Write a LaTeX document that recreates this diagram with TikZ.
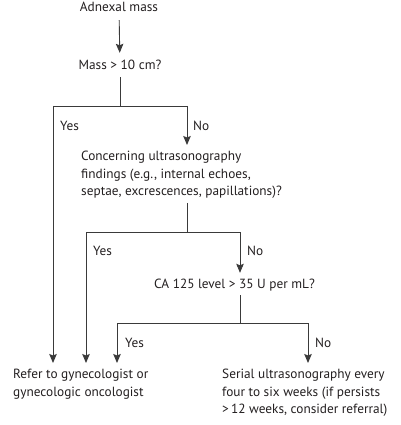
\documentclass[tikz,border=0pt]{standalone}
\usepackage{fontspec}
\setmainfont{PT Sans}
\usetikzlibrary{arrows.meta}
\definecolor{ink}{HTML}{231F20}
\definecolor{linec}{HTML}{3A3A3A}
\begin{document}
\begin{tikzpicture}[x=1pt,y=-1pt,
  txt/.style={inner sep=0pt, font=\fontsize{13.3}{18}\selectfont, text=ink, text height=9pt, text depth=3pt},
  mtxt/.style={inner sep=0pt, font=\fontsize{13.3}{17.5}\selectfont, text=ink, align=left},
  lbl/.style={inner sep=0pt, font=\fontsize{13.3}{18}\selectfont, text=ink, anchor=base west},
  ln/.style={draw=linec, line width=0.9pt},
  arr/.style={ln, -{Stealth[length=9pt,width=7.5pt,inset=1.5pt]}}]
\useasboundingbox (0,0) rectangle (400,425);
% nodes
\node[txt, anchor=base] (adnexal) at (119,12) {Adnexal mass};
\node[txt, anchor=base] (mass) at (120,70) {Mass > 10 cm?};
\node[mtxt, anchor=north west] (concern) at (81,151) {Concerning ultrasonography\\findings (e.g., internal echoes,\\septae, excrescences, papillations)?};
\node[txt, anchor=base west] (ca) at (154,288) {CA 125 level > 35 U per mL?};
\node[mtxt, anchor=north west] (refer) at (13,369) {Refer to gynecologist or\\gynecologic oncologist};
\node[mtxt, anchor=north west] (serial) at (222,369) {Serial ultrasonography every\\four to six weeks (if persists\\>\,12 weeks, consider referral)};
% junctions
\coordinate (j1) at (120,106);
\coordinate (j1L) at (53,106);
\coordinate (j1R) at (187,106);
\coordinate (j2) at (187,232);
\coordinate (j2L) at (86,232);
\coordinate (j2R) at (240,232);
\coordinate (j3) at (240,323);
\coordinate (j3L) at (117,323);
\coordinate (j3R) at (308,323);
% labels
\node[lbl] (yes1) at (60,130) {Yes};
\node[lbl] (no1) at (193,130) {No};
\node[lbl] (yes2) at (93,255) {Yes};
\node[lbl] (no2) at (247,255) {No};
\node[lbl] (yes3) at (125,347) {Yes};
\node[lbl] (no3) at (315,347) {No};
% connectors
\draw[arr, shorten <=5pt, shorten >=8pt] (adnexal) -- (mass);
\draw[ln, shorten <=4pt] (mass) -- (j1);
\draw[ln] (j1L) -- (j1R);
\draw[arr, shorten >=6pt] (j1L) -- (j1L |- refer.north);
\draw[arr, shorten >=6pt] (j1R) -- (j1R |- concern.north);
\draw[ln, shorten <=4pt] (j2 |- concern.south) -- (j2);
\draw[ln] (j2L) -- (j2R);
\draw[arr, shorten >=6pt] (j2L) -- (j2L |- refer.north);
\draw[arr, shorten >=6pt] (j2R) -- (j2R |- ca.north);
\draw[ln, shorten <=4pt] (j3 |- ca.south) -- (j3);
\draw[ln] (j3L) -- (j3R);
\draw[arr, shorten >=6pt] (j3L) -- (j3L |- refer.north);
\draw[arr, shorten >=6pt] (j3R) -- (j3R |- serial.north);
\end{tikzpicture}
\end{document}
